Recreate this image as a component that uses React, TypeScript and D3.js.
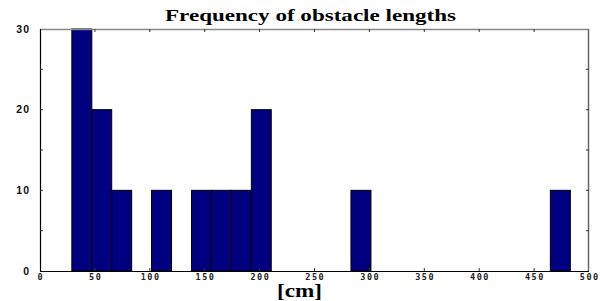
import React, { useRef, useEffect } from "react";
import * as d3 from "d3";

// histogram bins (left edge, right edge, count)
const binLeft = [29, 47.2, 65.3, 101.6, 138, 156.1, 174.3, 192.5, 283.2, 464.8];
const binRight = [47.2, 65.3, 83.5, 119.8, 156.1, 174.3, 192.5, 210.6, 301.4, 483];
const counts = [30, 20, 10, 10, 10, 10, 10, 20, 10, 10];

const xTicks = [0, 50, 100, 150, 200, 250, 300, 350, 400, 450, 500];
const yTicks = [0, 5, 10, 15, 20, 25, 30];
const yLabels = [0, 10, 20, 30];

const App = () => {
  const svgRef = useRef<SVGSVGElement>(null);
  const width = 611;
  const height = 301;
  const margin = { top: 29, right: 22, bottom: 30, left: 40 };

  useEffect(() => {
    const svg = d3.select(svgRef.current);
    svg.selectAll("*").remove();

    const x = d3.scaleLinear().domain([0, 500]).range([margin.left, width - margin.right]);
    const y = d3.scaleLinear().domain([0, 30]).range([height - margin.bottom, margin.top]);

    const bins = counts.map((c, i) => ({ x0: binLeft[i], x1: binRight[i], n: c }));

    svg.append("rect")
      .attr("width", width).attr("height", height).attr("fill", "#fff");

    // bars
    svg.append("g")
      .selectAll("rect")
      .data(bins)
      .enter()
      .append("rect")
      .attr("x", d => x(d.x0))
      .attr("y", d => y(d.n))
      .attr("width", d => x(d.x1) - x(d.x0))
      .attr("height", d => y(0) - y(d.n))
      .attr("fill", "#000080")
      .attr("stroke", "#000")
      .attr("stroke-width", 1);

    const x0 = x(0), x1 = x(500), y0 = y(0), y1 = y(30);

    // frame
    svg.append("line").attr("x1", x0).attr("x2", x1).attr("y1", y1 + 0.5).attr("y2", y1 + 0.5)
      .attr("stroke", "#888").attr("stroke-width", 1.5);
    svg.append("line").attr("x1", x1 - 0.5).attr("x2", x1 - 0.5).attr("y1", y1).attr("y2", y0)
      .attr("stroke", "#666").attr("stroke-width", 1.5);
    svg.append("line").attr("x1", x0).attr("x2", x1).attr("y1", y0 + 0.5).attr("y2", y0 + 0.5)
      .attr("stroke", "#000").attr("stroke-width", 1.2);
    svg.append("line").attr("x1", x0 + 0.5).attr("x2", x0 + 0.5).attr("y1", y1).attr("y2", y0)
      .attr("stroke", "#000").attr("stroke-width", 1.2);

    // ticks point inward on all four sides
    const tg = svg.append("g").attr("stroke", "#333").attr("stroke-width", 1);
    xTicks.slice(1, -1).forEach(t => {
      tg.append("line").attr("x1", x(t)).attr("x2", x(t)).attr("y1", y0).attr("y2", y0 - 3);
      tg.append("line").attr("x1", x(t)).attr("x2", x(t)).attr("y1", y1).attr("y2", y1 + 3);
    });
    yTicks.slice(1, -1).forEach(t => {
      tg.append("line").attr("x1", x0).attr("x2", x0 + 3).attr("y1", y(t)).attr("y2", y(t));
      tg.append("line").attr("x1", x1).attr("x2", x1 - 3).attr("y1", y(t)).attr("y2", y(t));
    });

    // x tick labels
    svg.append("g")
      .selectAll("text")
      .data(xTicks)
      .enter()
      .append("text")
      .attr("x", d => x(d) + 0.8)
      .attr("y", y0 + 9)
      .attr("text-anchor", "middle")
      .attr("font-family", "DejaVu Sans Mono, monospace")
      .attr("font-weight", "bold")
      .attr("font-size", 8.5)
      .attr("letter-spacing", 1.5)
      .attr("fill", "#222")
      .text(d => d);

    // y tick labels
    svg.append("g")
      .selectAll("text")
      .data(yLabels)
      .enter()
      .append("text")
      .attr("x", 30)
      .attr("y", d => y(d) + 3.5)
      .attr("text-anchor", "end")
      .attr("font-family", "Liberation Sans, Arial, sans-serif")
      .attr("font-weight", "bold")
      .attr("font-size", 10.5)
      .attr("letter-spacing", 1)
      .attr("fill", "#111")
      .text(d => d);

    svg.append("text")
      .attr("x", 310.5)
      .attr("y", 21)
      .attr("text-anchor", "middle")
      .attr("font-family", "Liberation Serif, Times New Roman, serif")
      .attr("font-weight", "bold")
      .attr("font-size", 17.5)
      .attr("textLength", 291)
      .attr("lengthAdjust", "spacingAndGlyphs")
      .text("Frequency of obstacle lengths");

    svg.append("text")
      .attr("x", 299.5)
      .attr("y", 297)
      .attr("text-anchor", "middle")
      .attr("font-family", "Liberation Serif, Times New Roman, serif")
      .attr("font-weight", "bold")
      .attr("font-size", 18)
      .attr("textLength", 45)
      .attr("lengthAdjust", "spacingAndGlyphs")
      .text("[cm]");
  }, []);

  return (
    <svg
      ref={svgRef}
      width={width}
      height={height}
      style={{ position: "absolute", left: 0, top: 0 }}
    />
  );
};

export default App;
